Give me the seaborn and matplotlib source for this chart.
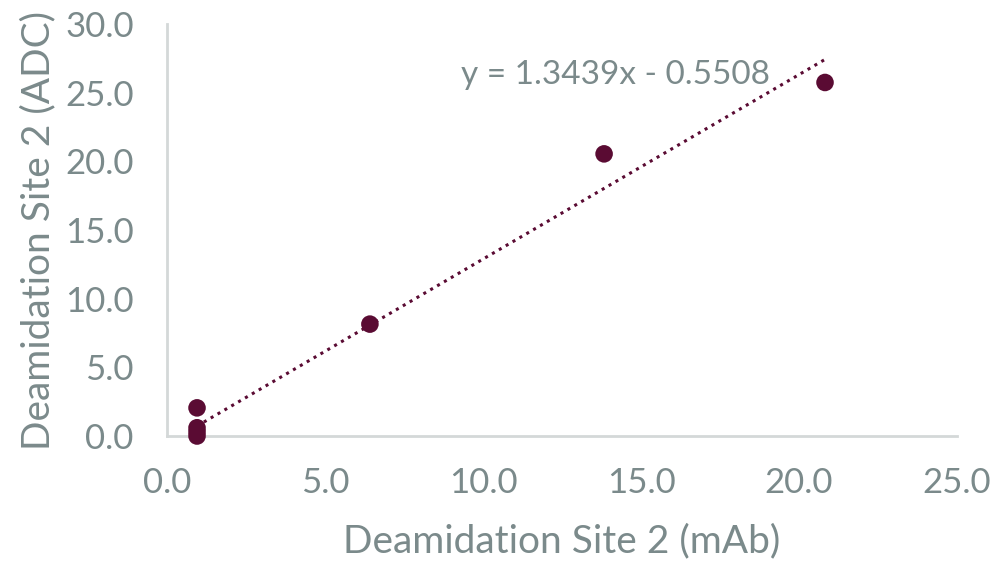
import numpy as np
import pandas as pd
import matplotlib
matplotlib.use("Agg")
import matplotlib.pyplot as plt
import seaborn as sns

# values
mab = [0.95, 0.95, 0.95, 0.95, 6.42, 13.83, 20.82]
adc = [0.0, 0.3, 0.6, 2.05, 8.15, 20.55, 25.75]
slope, intercept = 1.3439, -0.5508
x_ticks = [0.0, 5.0, 10.0, 15.0, 20.0, 25.0]
y_ticks = [0.0, 5.0, 10.0, 15.0, 20.0, 25.0, 30.0]

sns.set_theme(style="white")
plt.rcParams["font.family"] = ["Lato", "DejaVu Sans"]

grey = "#7b8a8b"
maroon = "#5a0b33"

df = pd.DataFrame({"mAb": mab, "ADC": adc})

fig = plt.figure(figsize=(9.97, 5.61), dpi=100)
ax = fig.add_axes([0.1675, 0.2228, 0.7925, 0.7342])

sns.scatterplot(data=df, x="mAb", y="ADC", ax=ax, color=maroon, s=160,
                edgecolor="none", zorder=3, clip_on=False)

# dotted linear trendline
xs = np.array([min(mab), max(mab)])
ax.plot(xs, slope * xs + intercept, linestyle=(0, (1, 1.6)), color=maroon,
        linewidth=2.2, zorder=2)
ax.text(9.3, 26.3, "y = 1.3439x - 0.5508", color=grey, fontsize=24,
        va="center", ha="left")

ax.set_xlim(0, 25)
ax.set_ylim(0, 30)
ax.set_xticks(x_ticks)
ax.set_yticks(y_ticks)
ax.set_xticklabels([f"{v:.1f}" for v in x_ticks])
ax.set_yticklabels([f"{v:.1f}" for v in y_ticks])
ax.tick_params(colors=grey, labelsize=25, length=0)
ax.tick_params(axis="y", pad=24)
ax.tick_params(axis="x", pad=22)
ax.set_xlabel("Deamidation Site 2 (mAb)", color=grey, fontsize=28, labelpad=18)
ax.set_ylabel("Deamidation Site 2 (ADC)", color=grey, fontsize=28, labelpad=6)

for side in ["top", "right"]:
    ax.spines[side].set_visible(False)
for side in ["left", "bottom"]:
    ax.spines[side].set_color("#d4d8d8")
    ax.spines[side].set_linewidth(2)

fig.savefig("out.png", dpi=100)
